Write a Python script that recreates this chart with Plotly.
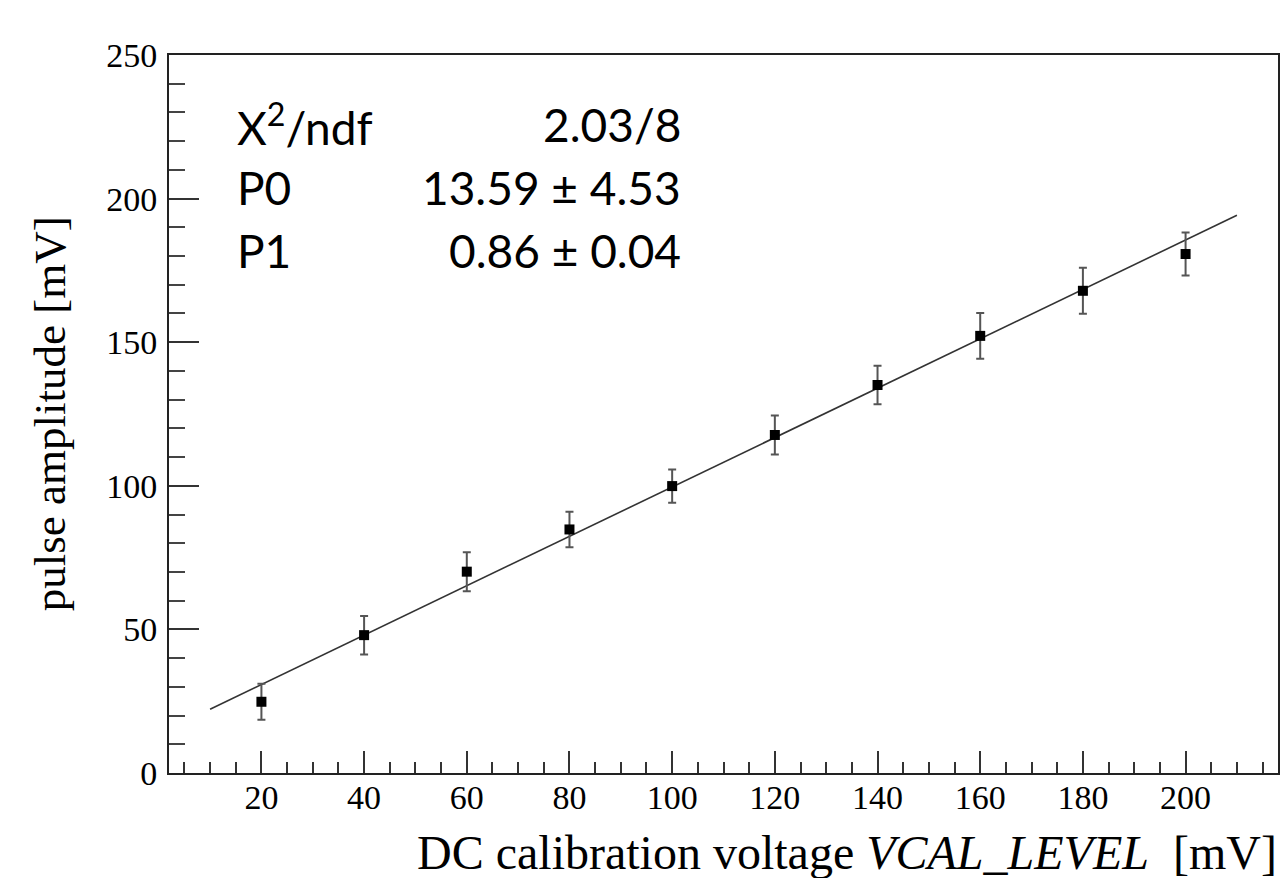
import numpy as np
import plotly.graph_objects as go

# ---- data ----
vcal_level = [20, 40, 60, 80, 100, 120, 140, 160, 180, 200]
pulse_amp = [24.8, 48.0, 70.1, 84.8, 99.9, 117.7, 135.1, 152.2, 167.9, 180.7]
pulse_err = [6.3, 6.7, 6.8, 6.2, 5.8, 6.8, 6.7, 8.0, 8.0, 7.5]

fit_p0 = 13.59
fit_p1 = 0.86
fit_range = [10, 210]

stat_labels = ["X<sup>2</sup>/ndf", "P0", "P1"]
stat_values = ["2.03/8", "13.59 ± 4.53", "0.86 ± 0.04"]

x_range = [2, 218]
y_range = [0, 250]

fit_x = np.linspace(fit_range[0], fit_range[1], 2)
fit_y = fit_p0 + fit_p1 * fit_x

fig = go.Figure()
fig.add_trace(go.Scatter(
    x=fit_x, y=fit_y, mode="lines",
    line=dict(color="#333333", width=1.6),
    showlegend=False, hoverinfo="skip",
))
fig.add_trace(go.Scatter(
    x=vcal_level, y=pulse_amp, mode="markers",
    marker=dict(symbol="square", size=10, color="black"),
    error_y=dict(type="data", array=pulse_err, visible=True,
                 color="#555555", thickness=2, width=4),
    showlegend=False,
))

serif = "Liberation Serif, Times New Roman, serif"
sans = "Lato, Open Sans, sans-serif"

L, R, T, B = 169, 4, 55, 105
W, H = 1284, 878

fig.update_layout(
    width=W, height=H,
    margin=dict(l=L, r=R, t=T, b=B),
    paper_bgcolor="white", plot_bgcolor="white",
    xaxis=dict(
        range=x_range, showgrid=False, zeroline=False,
        showline=True, linecolor="#222222", linewidth=2, mirror=True,
        ticks="inside", ticklen=22, tickwidth=2, tickcolor="#333333",
        tick0=0, dtick=20,
        minor=dict(ticks="inside", dtick=5, tick0=0, ticklen=11,
                   tickwidth=2, tickcolor="#333333", showgrid=False),
        tickfont=dict(family=serif, size=34, color="black"),
        ticklabelstandoff=-7,
    ),
    yaxis=dict(
        range=y_range, showgrid=False, zeroline=False,
        showline=True, linecolor="#222222", linewidth=2, mirror=True,
        ticks="inside", ticklen=30, tickwidth=2, tickcolor="#333333",
        tick0=0, dtick=50,
        minor=dict(ticks="inside", dtick=10, tick0=0, ticklen=16,
                   tickwidth=2, tickcolor="#444444", showgrid=False),
        tickfont=dict(family=serif, size=34, color="black"),
        ticklabelstandoff=3,
    ),
)

pw = W - L - R
ph = H - T - B

# axis titles
fig.add_annotation(
    xref="paper", yref="paper", x=1 + 1 / pw, y=-(881 - (H - B)) / ph,
    xanchor="right", yanchor="bottom", showarrow=False,
    text="DC calibration voltage <i>VCAL_LEVEL</i>&nbsp;&nbsp;[mV]",
    font=dict(family=serif, size=48, color="black"),
)
fig.add_annotation(
    xref="paper", yref="paper", x=-(L - 50) / pw, y=0.5,
    xanchor="center", yanchor="middle", showarrow=False, textangle=-90,
    text="pulse amplitude [mV]",
    font=dict(family=serif, size=45, color="black"),
)

# fit statistics text
row_centers = [125, 187, 250]
for lab, val, yc in zip(stat_labels, stat_values, row_centers):
    yp = (H - B - yc) / ph
    fig.add_annotation(
        xref="paper", yref="paper", x=(235 - L) / pw, y=yp,
        xanchor="left", yanchor="middle", showarrow=False,
        text=lab, font=dict(family=sans, size=46, color="black"),
    )
    fig.add_annotation(
        xref="paper", yref="paper", x=(684 - L) / pw, y=yp,
        xanchor="right", yanchor="middle", showarrow=False,
        text=val, font=dict(family=sans, size=46, color="black"),
    )

fig.write_html("out.html", config={"displayModeBar": False},
               post_script="document.body.style.margin='0';")
